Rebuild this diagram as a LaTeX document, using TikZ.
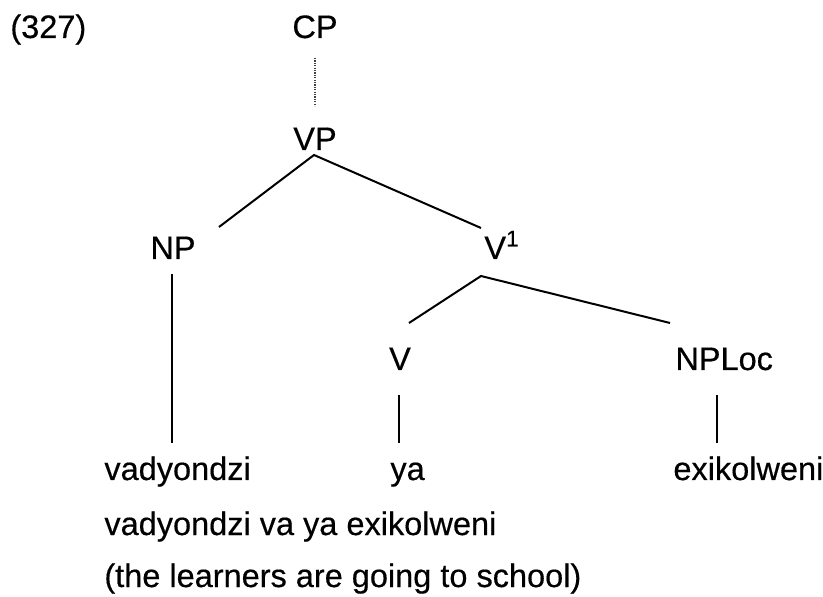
\documentclass[tikz,border=0pt]{standalone}
\usepackage{fontspec}
\setmainfont{Liberation Sans}[FakeBold=0.4]
\usepackage{tikz}

\tikzset{
  lbl/.style={font=\fontsize{16.25}{19}\selectfont,inner sep=0pt,anchor=base},
  branch/.style={line width=1pt},
  stem/.style={line width=.8pt}
}

\begin{document}
\begin{tikzpicture}[x=.5pt,y=-.5pt]
  \useasboundingbox (0,0) rectangle (823,597);
  \node[lbl,anchor=base west] (num) at (10,38) {(327)};
  \node[lbl] (CP) at (315,38) {CP};
  \node[lbl] (VP) at (315,150) {VP};
  \node[lbl] (NP) at (173,259) {NP};
  \node[lbl,anchor=base west] (Vbar) at (484,259) {V\textsuperscript{1}};
  \node[lbl] (V) at (400,370) {V};
  \node[lbl,anchor=base west] (NPLoc) at (675,370) {NPLoc};
  \node[lbl,anchor=base west] (wNP) at (104,480) {vadyondzi};
  \node[lbl,anchor=base west] (wV) at (390,480) {ya};
  \node[lbl,anchor=base west] (wLoc) at (673,480) {exikolweni};
  \node[lbl,anchor=base west] (gloss) at (104,535) {vadyondzi va ya exikolweni};
  \node[lbl,anchor=base west] (transl) at (104,587) {(the learners are going to school)};
  % branch ends
  \coordinate (cpb) at (315,58);
  \coordinate (vpt) at (315,106);
  \coordinate (vpb) at (314,155);
  \coordinate (npt) at (219,227);
  \coordinate (vbt) at (481,228);
  \coordinate (vbb) at (481,276);
  \coordinate (vt) at (409,323);
  \coordinate (loct) at (670,323);
  % stem ends
  \coordinate (npb) at (172,274);
  \coordinate (wnpt) at (172,443);
  \coordinate (vb) at (399,395);
  \coordinate (wvt) at (399,443);
  \coordinate (locb) at (717,395);
  \coordinate (wloct) at (717,443);
  \draw[line width=.7pt,black!75,dash pattern=on .6pt off .6pt] (cpb) -- (vpt);
  \draw[branch] (npt) -- (vpb) -- (vbt);
  \draw[branch] (vt) -- (vbb) -- (loct);
  \draw[stem] (npb) -- (wnpt);
  \draw[stem] (vb) -- (wvt);
  \draw[stem] (locb) -- (wloct);
\end{tikzpicture}
\end{document}
